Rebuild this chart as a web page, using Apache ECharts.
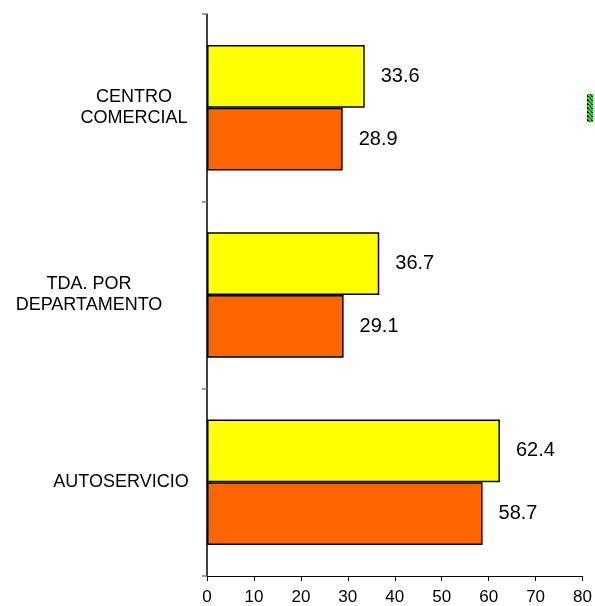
<!DOCTYPE html>
<html>
<head>
<meta charset="utf-8">
<script src="https://cdn.jsdelivr.net/npm/echarts@6/dist/echarts.min.js"></script>
<style>html,body{margin:0;padding:0;background:#fff}#c{width:595px;height:606px}</style>
</head>
<body>
<div id="c"></div>
<script>
var categories = ['AUTOSERVICIO', 'TDA. POR\nDEPARTAMENTO', 'CENTRO\nCOMERCIAL'];
var yellowValues = [62.4, 36.7, 33.6];
var orangeValues = [58.7, 29.1, 28.9];
var xTicks = { min: 0, max: 80, interval: 10 };

var FONT = "'Liberation Sans', Arial, sans-serif";
var labelStyleKey = ['c2', 'c1', 'c0'];

function makePattern() {
  var cv = document.createElement('canvas');
  cv.width = 4; cv.height = 4;
  var ctx = cv.getContext('2d');
  ctx.fillStyle = '#00ff00';
  ctx.fillRect(0, 0, 4, 4);
  ctx.fillStyle = '#000000';
  ctx.fillRect(0, 0, 1, 1); ctx.fillRect(1, 1, 1, 1);
  ctx.fillRect(2, 2, 1, 1); ctx.fillRect(3, 3, 1, 1);
  ctx.fillRect(3, 0, 1, 1);
  return cv;
}

var chart = echarts.init(document.getElementById('c'), null, { renderer: 'canvas' });
chart.setOption({
  animation: false,
  backgroundColor: '#ffffff',
  grid: { left: 207, right: 9, top: 14, bottom: 28, containLabel: false },
  xAxis: {
    type: 'value',
    min: xTicks.min, max: xTicks.max, interval: xTicks.interval,
    axisLine: { show: true, lineStyle: { color: '#000', width: 1 } },
    axisTick: { show: true, length: 5, lineStyle: { color: '#000' } },
    splitLine: { show: false },
    axisLabel: { fontFamily: FONT, fontSize: 17, color: '#000', margin: 13 }
  },
  yAxis: {
    type: 'category',
    data: categories,
    axisLine: { show: true, lineStyle: { color: '#000', width: 1.5 } },
    axisTick: { show: true, length: 5, lineStyle: { color: '#808080', width: 1.5 } },
    splitLine: { show: false },
    axisLabel: {
      margin: 73,
      align: 'center',
      fontFamily: FONT, fontSize: 18, color: '#000', lineHeight: 21,
      formatter: function (value, idx) {
        var k = labelStyleKey[idx];
        return value.split('\n').map(function (s) { return '{' + k + '|' + s + '}'; }).join('\n');
      },
      rich: {
        c0: { fontFamily: FONT, fontSize: 18, lineHeight: 21, color: '#000', padding: [0, 0, 0, 0] },
        c1: { fontFamily: FONT, fontSize: 18, lineHeight: 21, color: '#000', padding: [0, 90, 0, 0] },
        c2: { fontFamily: FONT, fontSize: 18, lineHeight: 21, color: '#000', padding: [0, 26, 0, 0] }
      }
    }
  },
  series: [
    {
      type: 'bar', data: yellowValues, barGap: '0%', barCategoryGap: '33%',
      itemStyle: { color: '#FFFF00', borderColor: '#000', borderWidth: 1.5 },
      label: { show: true, position: 'right', distance: 16, fontFamily: FONT, fontSize: 20, color: '#000' }
    },
    {
      type: 'bar', data: orangeValues, barGap: '0%', barCategoryGap: '33%',
      itemStyle: { color: '#FF6600', borderColor: '#000', borderWidth: 1.5 },
      label: { show: true, position: 'right', distance: 16, fontFamily: FONT, fontSize: 20, color: '#000' }
    }
  ],
  graphic: [
    { type: 'rect', shape: { x: 587, y: 94, width: 6, height: 28 },
      style: { fill: { image: makePattern(), repeat: 'repeat' }, stroke: null } }
  ]
});
</script>
</body>
</html>
